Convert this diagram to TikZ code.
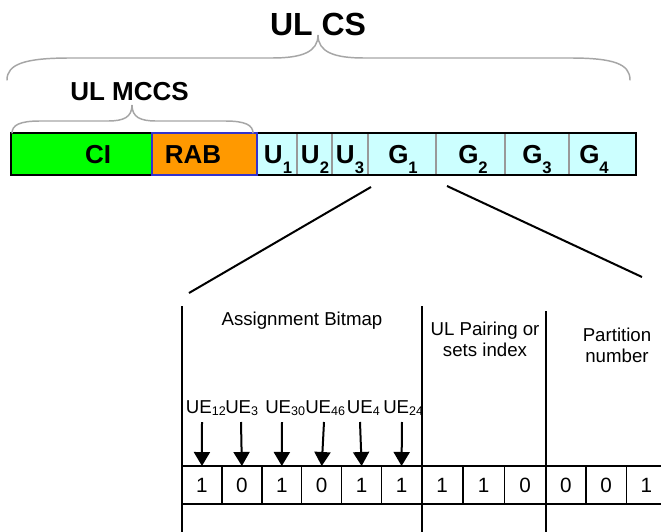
\documentclass[tikz,border=0pt]{standalone}
\usepackage{fontspec}
\setmainfont{Liberation Sans}
\usetikzlibrary{arrows.meta}
\definecolor{ciGreen}{HTML}{00FF00}
\definecolor{rabOrange}{HTML}{FF9900}
\definecolor{ugCyan}{HTML}{CCFFFF}
\definecolor{rabBlue}{HTML}{3333CC}
\definecolor{braceGray}{HTML}{A6A6A6}
\definecolor{divGray}{HTML}{999999}
\newcommand\bsub[1]{\raisebox{-0.8ex}{\fontsize{12.5}{12.5}\selectfont #1}}
\newcommand\usub[1]{\raisebox{-0.3ex}{\fontsize{9.4}{9.4}\selectfont #1}}
\begin{document}
\begin{tikzpicture}[x=0.75pt,y=-0.75pt,
  barcell/.style={rectangle, inner sep=0pt, outer sep=0pt, minimum height=31.5pt, line width=1pt},
  ugcell/.style={barcell, fill=ugCyan, draw=divGray},
  bigbold/.style={font=\fontsize{19.5}{19.5}\selectfont\bfseries, inner sep=0pt, anchor=base},
  titlebold/.style={font=\fontsize{24}{24}\selectfont\bfseries, inner sep=0pt, anchor=base},
  subtitlebold/.style={font=\fontsize{19.5}{19.5}\selectfont\bfseries, inner sep=0pt, anchor=base},
  brace/.style={draw=braceGray, line width=1.1pt, line cap=round},
  plain/.style={font=\fontsize{14}{14}\selectfont, inner sep=0pt, anchor=base},
  uelab/.style={font=\fontsize{14}{14}\selectfont, inner sep=0pt, anchor=base west},
  bitcell/.style={rectangle, draw=black, line width=1pt, inner sep=0pt, outer sep=0pt, minimum height=28.5pt, font=\fontsize{15.5}{15.5}\selectfont},
  bitA/.style={bitcell, minimum width=29.94pt},
  bitB/.style={bitcell, minimum width=31.05pt},
  bitC/.style={bitcell, minimum width=30.2pt},
  sectline/.style={line width=1.5pt},
  uearrow/.style={line width=1.5pt, -{Triangle[width=12pt,length=10.5pt]}},
  zoomline/.style={line width=1.5pt},
]
\useasboundingbox (0,0) rectangle (661,532);
\clip (0,0) rectangle (661,532);
\fill[white] (0,0) rectangle (661,532);

% ---- top bar ----
\node[ugcell, minimum width=30pt]    (u1) at (277,154) {};
\node[ugcell, minimum width=26.25pt] (u2) at (314.5,154) {};
\node[ugcell, minimum width=27pt]    (u3) at (350,154) {};
\node[ugcell, minimum width=51pt]    (g1) at (402,154) {};
\node[ugcell, minimum width=51.75pt] (g2) at (470.5,154) {};
\node[ugcell, minimum width=48pt]    (g3) at (537,154) {};
\node[ugcell, minimum width=50.25pt] (g4) at (602.5,154) {};
\draw[line width=1.3pt] (u1.north west) rectangle (g4.south east);
\node[barcell, fill=ciGreen, draw=black, minimum width=105.75pt] (ci) at (81.5,154) {};
\node[barcell, fill=rabOrange, draw=rabBlue, minimum width=78.75pt] (rab) at (204.5,154) {};

\node[bigbold] (cilab)  at (98,163)  {CI};
\node[bigbold] (rablab) at (193,163) {RAB};
\node[bigbold] (u1lab) at (278,163) {U\bsub{1}};
\node[bigbold] (u2lab) at (315,163) {U\bsub{2}};
\node[bigbold] (u3lab) at (350,163) {U\bsub{3}};
\node[bigbold] (g1lab) at (403,163) {G\bsub{1}};
\node[bigbold] (g2lab) at (473,163) {G\bsub{2}};
\node[bigbold] (g3lab) at (537,163) {G\bsub{3}};
\node[bigbold] (g4lab) at (594,163) {G\bsub{4}};

% ---- braces and titles ----
\draw[brace] (7,80) .. controls (7,64) and (25,58) .. (70,58) -- (272,58)
  .. controls (302,58) and (318,52) .. (318,35)
  .. controls (318,52) and (334,58) .. (364,58) -- (570,58)
  .. controls (614,58) and (630,64) .. (630,80);
\node[titlebold] (ulcs) at (318,35) {UL CS};

\draw[brace] (12,133) .. controls (12,125) and (20,121) .. (40,121) -- (108,121)
  .. controls (124,121) and (132,117) .. (132,105)
  .. controls (132,117) and (140,121) .. (156,121) -- (225,121)
  .. controls (245,121) and (253,125) .. (253,133);
\node[subtitlebold] (ulmccs) at (129.5,100) {UL MCCS};

% ---- zoom lines ----
\coordinate (zl1) at (371,187);
\coordinate (zl2) at (189,293);
\coordinate (zr1) at (447,186);
\coordinate (zr2) at (642,277);
\draw[zoomline] (zl1) -- (zl2);
\draw[zoomline] (zr1) -- (zr2);

% ---- bit cells ----
\node[bitA] (b1)  at (201.96,485) {1};
\node[bitA] (b2)  at (241.88,485) {0};
\node[bitA] (b3)  at (281.80,485) {1};
\node[bitA] (b4)  at (321.72,485) {0};
\node[bitA] (b5)  at (361.64,485) {1};
\node[bitA] (b6)  at (401.56,485) {1};
\node[bitB] (b7)  at (442.20,485) {1};
\node[bitB] (b8)  at (483.60,485) {1};
\node[bitB] (b9)  at (525.00,485) {0};
\node[bitC] (b10) at (565.85,485) {0};
\node[bitC] (b11) at (606.15,485) {0};
\node[bitC] (b12) at (646.45,485) {1};

% ---- section lines ----
\coordinate (s1t) at (182,306);   \coordinate (s1b) at (182,532);
\coordinate (s2t) at (421.5,306); \coordinate (s2b) at (421.5,532);
\coordinate (s3t) at (545.7,311); \coordinate (s3b) at (545.7,532);
\draw[sectline] (s1t) -- (s1b);
\draw[sectline] (s2t) -- (s2b);
\draw[sectline] (s3t) -- (s3b);

% ---- section titles ----
\node[plain] (assign) at (302,325) {Assignment Bitmap};
\node[plain] (pair1) at (485,335) {UL Pairing or};
\node[plain] (pair2) at (485,356) {sets index};
\node[plain] (part1) at (617,341) {Partition};
\node[plain] (part2) at (617,362) {number};

% ---- UE labels and arrows ----
\node[uelab] (ue12) at (185.7,413) {UE\usub{12}};
\node[uelab] (ue3)  at (225,413)   {UE\usub{3}};
\node[uelab] (ue30) at (265,413)   {UE\usub{30}};
\node[uelab] (ue46) at (305,413)   {UE\usub{46}};
\node[uelab] (ue4)  at (346.7,413) {UE\usub{4}};
\node[uelab] (ue24) at (383,413)   {UE\usub{24}};

\coordinate (a1) at (202,422);
\coordinate (a2) at (241,422);
\coordinate (a3) at (282,422);
\coordinate (a4) at (324,422);
\coordinate (a5) at (360,422);
\coordinate (a6) at (402,422);
\draw[uearrow] (a1) -- (b1.north);
\draw[uearrow] (a2) -- (b2.north);
\draw[uearrow] (a3) -- (b3.north);
\draw[uearrow] (a4) -- (b4.north);
\draw[uearrow] (a5) -- (b5.north);
\draw[uearrow] (a6) -- (b6.north);
\end{tikzpicture}
\end{document}
